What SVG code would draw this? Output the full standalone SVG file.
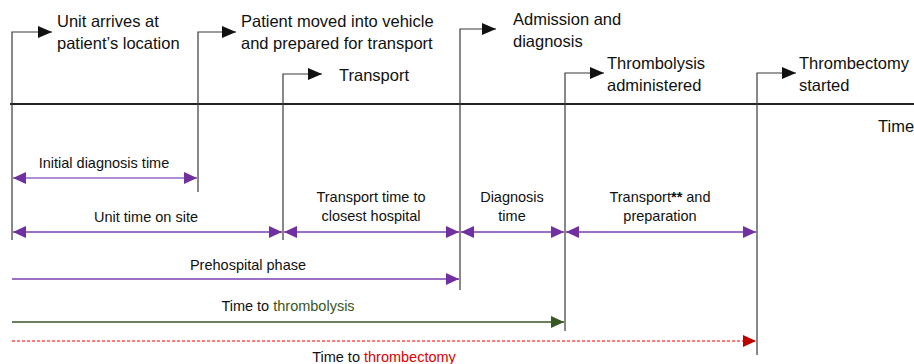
<svg xmlns="http://www.w3.org/2000/svg" width="914" height="364" viewBox="0 0 914 364">
  <style>
    .ev { fill: none; stroke: #3a3a3a; stroke-width: 1.2; }
    .lbl { font-family: "Liberation Sans", Arial, sans-serif; font-size: 16.5px; fill: #111; }
    .sm { font-family: "Liberation Sans", Arial, sans-serif; font-size: 14.5px; fill: #111; text-anchor: middle; }
    .span { fill: none; stroke: #7a3fb0; stroke-width: 1.5; }
    .span-light { fill: none; stroke: #b08ed6; stroke-width: 2; }
  </style>
  <defs>
    <marker id="headBlack" markerUnits="userSpaceOnUse" markerWidth="14" markerHeight="12" refX="14" refY="6" orient="auto">
      <path d="M0,0 L14,6 L0,12 z" fill="#111"/>
    </marker>
    <marker id="headPurple" markerUnits="userSpaceOnUse" markerWidth="13" markerHeight="12" refX="13" refY="6" orient="auto-start-reverse">
      <path d="M0,0 L13,6 L0,12 z" fill="#7030a0"/>
    </marker>
    <marker id="headGreen" markerUnits="userSpaceOnUse" markerWidth="13" markerHeight="12" refX="13" refY="6" orient="auto">
      <path d="M0,0 L13,6 L0,12 z" fill="#375623"/>
    </marker>
    <marker id="headRed" markerUnits="userSpaceOnUse" markerWidth="13" markerHeight="12" refX="13" refY="6" orient="auto">
      <path d="M0,0 L13,6 L0,12 z" fill="#c00000"/>
    </marker>
  </defs>

  <rect width="914" height="364" fill="#fff"/>

  <!-- time axis -->
  <g id="axis">
    <line x1="10" y1="104" x2="914" y2="104" stroke="#222" stroke-width="2"/>
    <text class="lbl" x="878" y="132">Time</text>
  </g>

  <!-- events on the time axis -->
  <g id="ev-arrival">
    <path class="ev" d="M12,240 V32 H52" marker-end="url(#headBlack)"/>
    <text class="lbl" x="57" y="27">Unit arrives at</text>
    <text class="lbl" x="57" y="49">patient’s location</text>
  </g>
  <g id="ev-moved">
    <path class="ev" d="M198,192 V32 H236" marker-end="url(#headBlack)"/>
    <text class="lbl" x="241" y="27">Patient moved into vehicle</text>
    <text class="lbl" x="241" y="49">and prepared for transport</text>
  </g>
  <g id="ev-transport">
    <path class="ev" d="M283,240 V74 H322" marker-end="url(#headBlack)"/>
    <text class="lbl" x="339" y="81">Transport</text>
  </g>
  <g id="ev-admission">
    <path class="ev" d="M460,290 V29 H496" marker-end="url(#headBlack)"/>
    <text class="lbl" x="513" y="25">Admission and</text>
    <text class="lbl" x="513" y="47">diagnosis</text>
  </g>
  <g id="ev-thrombolysis">
    <path class="ev" d="M565,331 V73 H604" marker-end="url(#headBlack)"/>
    <text class="lbl" x="607" y="69">Thrombolysis</text>
    <text class="lbl" x="607" y="91">administered</text>
  </g>
  <g id="ev-thrombectomy">
    <path class="ev" d="M757,355 V73 H796" marker-end="url(#headBlack)"/>
    <text class="lbl" x="799" y="69">Thrombectomy</text>
    <text class="lbl" x="799" y="91">started</text>
  </g>

  <!-- interval connectors -->
  <g id="connectors">
    <line class="span-light" x1="13" y1="178" x2="197" y2="178" marker-start="url(#headPurple)" marker-end="url(#headPurple)"/>
    <line class="span" x1="13" y1="232" x2="282" y2="232" marker-start="url(#headPurple)" marker-end="url(#headPurple)"/>
    <line class="span" x1="284" y1="232" x2="459" y2="232" marker-start="url(#headPurple)" marker-end="url(#headPurple)"/>
    <line class="span" x1="461" y1="232" x2="564" y2="232" marker-start="url(#headPurple)" marker-end="url(#headPurple)"/>
    <line class="span" x1="566" y1="232" x2="756" y2="232" marker-start="url(#headPurple)" marker-end="url(#headPurple)"/>
    <line class="span" x1="12" y1="279" x2="459" y2="279" marker-end="url(#headPurple)"/>
    <line x1="12" y1="322" x2="564" y2="322" stroke="#375623" stroke-width="1.5" marker-end="url(#headGreen)"/>
    <line x1="12" y1="341" x2="756" y2="341" stroke="#ff5050" stroke-width="1.5" stroke-dasharray="3 2" marker-end="url(#headRed)"/>
  </g>

  <!-- interval labels -->
  <g id="span-labels">
    <text class="sm" x="104" y="168">Initial diagnosis time</text>
    <text class="sm" x="146" y="222">Unit time on site</text>
    <text class="sm" x="371" y="202">Transport time to</text>
    <text class="sm" x="371" y="221">closest hospital</text>
    <text class="sm" x="512" y="202">Diagnosis</text>
    <text class="sm" x="512" y="221">time</text>
    <text class="sm" x="660" y="202">Transport<tspan font-weight="bold">**</tspan> and</text>
    <text class="sm" x="660" y="221">preparation</text>
    <text class="sm" x="248" y="270">Prehospital phase</text>
    <text class="sm" x="288" y="311">Time to <tspan fill="#375623">thrombolysis</tspan></text>
    <text class="sm" x="384" y="362">Time to <tspan fill="#e00000">thrombectomy</tspan></text>
  </g>
</svg>
